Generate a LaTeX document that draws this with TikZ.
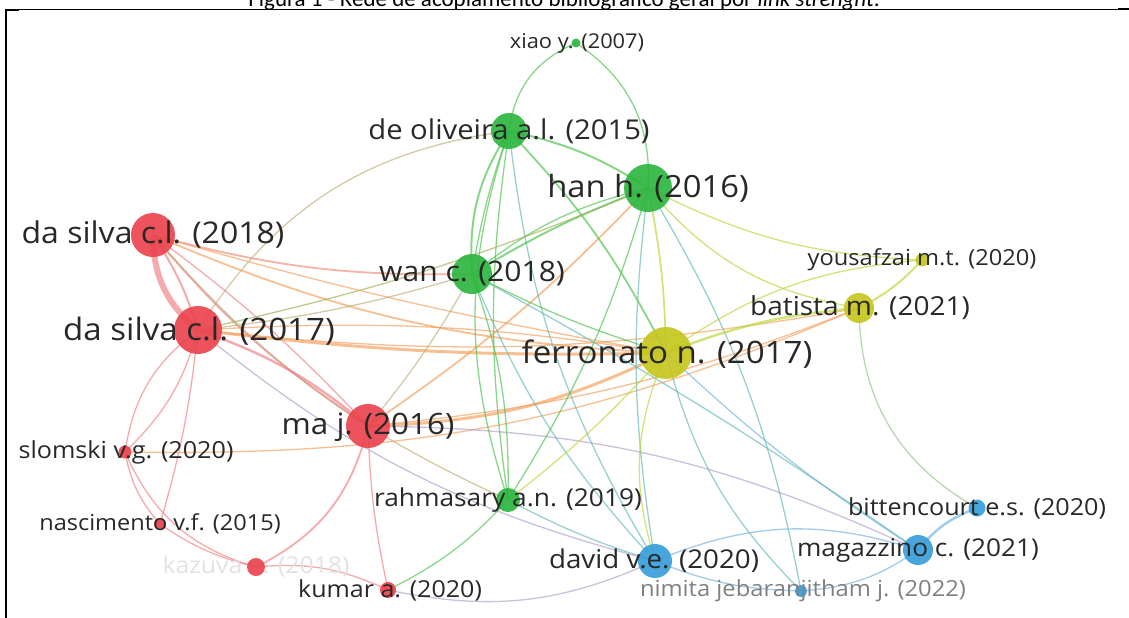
\documentclass[tikz,border=0pt]{standalone}
\usepackage{fontspec}
\setmainfont{Open Sans}
\newfontfamily\labfont[FakeStretch=1.07]{Open Sans}
\newfontfamily\capfont{Carlito}
\pgfdeclarelayer{edgelayer}
\pgfsetlayers{edgelayer,main}
\newcommand{\fsz}[1]{\labfont\fontsize{#1}{#1}\selectfont}
\definecolor{vred}{RGB}{234,68,78}
\definecolor{vgreen}{RGB}{46,182,64}
\definecolor{vyellow}{RGB}{198,198,32}
\definecolor{vblue}{RGB}{58,158,218}
\definecolor{epink}{RGB}{240,130,135}
\definecolor{eorange}{RGB}{245,160,95}
\definecolor{etan}{RGB}{195,175,125}
\definecolor{egreen}{RGB}{80,195,80}
\definecolor{eyg}{RGB}{185,215,60}
\definecolor{eblue}{RGB}{115,180,225}
\definecolor{ebg}{RGB}{105,185,185}
\definecolor{elilac}{RGB}{180,160,205}
\definecolor{labc}{RGB}{40,40,40}
\definecolor{labgray}{RGB}{128,128,128}
\definecolor{labfaint}{RGB}{226,226,226}
\begin{document}
\begin{tikzpicture}[x=1pt,y=1pt,
  dot/.style={circle, fill=#1, fill opacity=0.92, draw=none, inner sep=0pt},
  lab/.style={text=labc, inner sep=0pt, anchor=center},
  lnk/.style={draw=#1, line width=1.3pt, draw opacity=0.68},
  frameline/.style={draw=black, line width=1pt}]
\clip (0,0) rectangle (1129,-618);

% caption and frame
\node[anchor=base, inner sep=0pt, font=\capfont\fontsize{23}{23}\selectfont] (cap) at (564,-6.5)
  {Figura 1 - Rede de acoplamento bibliográfico geral por \textit{link strenght}.};
\draw[frameline] (5,-9.5) -- (1129,-9.5);
\draw[frameline, line width=2pt] (5,-10) -- (19,-10);
\draw[frameline, line width=2pt] (1118,-8.7) -- (1129,-8.7);
\draw[frameline, line width=1.6pt] (5.8,-9) -- (5.8,-618);

% faint label lies under its node
\node[lab, font={\fsz{23.2}}, text=labfaint] (kazut) at (256,-567) {kazuva e. (2018)};

% nodes
\node[dot=vgreen, minimum size=9pt] (xiao) at (576,-43) {};
\node[dot=vgreen, minimum size=36pt] (deol) at (509,-131) {};
\node[dot=vgreen, minimum size=48pt] (han) at (648,-188) {};
\node[dot=vred, minimum size=44pt] (ds18) at (153,-235) {};
\node[dot=vgreen, minimum size=40pt] (wan) at (472,-274) {};
\node[dot=vyellow, minimum size=13pt] (yous) at (922,-260) {};
\node[dot=vyellow, minimum size=30pt] (bat) at (859,-308) {};
\node[dot=vred, minimum size=48pt] (ds17) at (198,-330) {};
\node[dot=vyellow, minimum size=52pt] (ferr) at (666,-353) {};
\node[dot=vred, minimum size=44pt] (maj) at (368,-426) {};
\node[dot=vred, minimum size=13pt] (slom) at (125,-452) {};
\node[dot=vgreen, minimum size=24pt] (rahm) at (508,-500) {};
\node[dot=vred, minimum size=12pt] (nasc) at (160,-524) {};
\node[dot=vblue, minimum size=17pt] (bitt) at (977,-508) {};
\node[dot=vblue, minimum size=30pt] (maga) at (918,-550) {};
\node[dot=vblue, minimum size=34pt] (david) at (655,-561) {};
\node[dot=vred, minimum size=18pt] (kazu) at (256,-567) {};
\node[dot=vred, minimum size=16pt] (kumar) at (388,-590) {};
\node[dot=vblue, minimum size=12pt] (nimi) at (801,-591) {};

% labels
\node[lab, font={\fsz{20.4}}] (xiaot) at (577,-43) {xiao y. (2007)};
\node[lab, font={\fsz{27.3}}] (deolt) at (509,-131) {de oliveira a.l. (2015)};
\node[lab, font={\fsz{30.6}}] (hant) at (648,-188) {han h. (2016)};
\node[lab, font={\fsz{29.9}}] (ds18t) at (153,-235) {da silva c.l. (2018)};
\node[lab, font={\fsz{28.1}}] (want) at (472,-274) {wan c. (2018)};
\node[lab, font={\fsz{22.1}}] (youst) at (922,-260) {yousafzai m.t. (2020)};
\node[lab, font={\fsz{26.2}}] (batt) at (860,-308) {batista m. (2021)};
\node[lab, font={\fsz{30.9}}] (ds17t) at (199,-331) {da silva c.l. (2017)};
\node[lab, font={\fsz{30.9}}] (ferrt) at (667,-354) {ferronato n. (2017)};
\node[lab, font={\fsz{29.4}}] (majt) at (368,-427) {ma j. (2016)};
\node[lab, font={\fsz{23.5}}] (slomt) at (126,-452) {slomski v.g. (2020)};
\node[lab, font={\fsz{24.6}}] (rahmt) at (508,-500) {rahmasary a.n. (2019)};
\node[lab, font={\fsz{22.0}}] (nasct) at (160,-524) {nascimento v.f. (2015)};
\node[lab, font={\fsz{23.5}}] (bittt) at (977,-508) {bittencourt e.s. (2020)};
\node[lab, font={\fsz{24.5}}] (magat) at (918,-550) {magazzino c. (2021)};
\node[lab, font={\fsz{25.9}}] (davidt) at (654,-561) {david v.e. (2020)};
\node[lab, font={\fsz{23.4}}] (kumart) at (390,-590) {kumar a. (2020)};
\node[lab, font={\fsz{22.2}}, text=labgray] (nimit) at (803,-591) {nimita jebaranjitham j. (2022)};

% edges
\begin{pgfonlayer}{edgelayer}
\draw[lnk=epink, line width=6pt] (ds18.center) to[bend right=25] (ds17.center);
\draw[lnk=epink, line width=2pt] (ds18.center) to[bend left=8] (ds17.center);
\draw[lnk=epink!60!eorange, line width=1.8pt] (ds18.center) to[bend right=8] (wan.center);
\draw[lnk=epink, line width=2pt] (ds18.center) to[bend right=8] (maj.center);
\draw[lnk=epink] (ds18.center) to[bend left=5] (maj.center);
\draw[lnk=eorange, line width=1.8pt] (ds18.center) to[bend right=10] (ferr.center);
\draw[lnk=eorange] (ds18.center) to[bend right=3] (ferr.center);
\draw[lnk=etan] (ds18.center) to[bend right=12] (rahm.center);
\draw[lnk=eorange, line width=3pt] (ds17.center) to[bend right=4] (ferr.center);
\draw[lnk=eorange] (ds17.center) to[bend left=6] (ferr.center);
\draw[lnk=epink, line width=2.5pt] (ds17.center) to[bend left=10] (maj.center);
\draw[lnk=epink] (ds17.center) to[bend left=15] (slom.center);
\draw[lnk=epink] (ds17.center) to[bend right=22] (slom.center);
\draw[lnk=epink] (ds17.center) to[bend left=5] (nasc.center);
\draw[lnk=epink] (slom.center) to[bend right=15] (nasc.center);
\draw[lnk=epink] (slom.center) to[bend right=25] (kazu.center);
\draw[lnk=epink] (nasc.center) to[bend right=10] (kazu.center);
\draw[lnk=epink, line width=1.8pt] (maj.center) to[bend left=25] (kazu.center);
\draw[lnk=epink] (maj.center) to[bend right=5] (kumar.center);
\draw[lnk=epink] (kazu.center) to[bend left=15] (kumar.center);
\draw[lnk=eorange] (slom.center) to[bend right=12] (bat.center);
\draw[lnk=elilac] (ds17.center) to[bend right=12] (david.center);
\draw[lnk=elilac] (maj.center) to[bend left=12] (maga.center);
\draw[lnk=elilac] (kumar.center) to[bend right=18] (david.center);
\draw[lnk=egreen] (kumar.center) to[bend right=10] (rahm.center);
\draw[lnk=eorange, line width=1.8pt] (maj.center) to[bend right=6] (han.center);
\draw[lnk=eorange, line width=3pt] (maj.center) to[bend right=12] (ferr.center);
\draw[lnk=eorange] (maj.center) to[bend right=8] (bat.center);
\draw[lnk=etan] (ds17.center) to[bend right=5] (wan.center);
\draw[lnk=etan] (ds17.center) to[bend left=25] (deol.center);
\draw[lnk=eorange] (bat.center) to[bend left=8] (ds17.center);
\draw[lnk=egreen] (xiao.center) to[bend right=30] (deol.center);
\draw[lnk=egreen] (xiao.center) to[bend left=30] (han.center);
\draw[lnk=egreen, line width=2pt] (deol.center) to[bend left=10] (han.center);
\draw[lnk=egreen, line width=1.8pt] (deol.center) to[bend left=8] (ferr.center);
\draw[lnk=egreen, line width=2pt] (deol.center) to[bend right=18] (wan.center);
\draw[lnk=egreen] (deol.center) to[bend right=5] (wan.center);
\draw[lnk=egreen] (deol.center) to[bend right=8] (rahm.center);
\draw[lnk=egreen] (deol.center) to[bend right=18] (rahm.center);
\draw[lnk=ebg] (deol.center) to[bend right=12] (david.center);
\draw[lnk=egreen, line width=2pt] (han.center) to[bend right=5] (wan.center);
\draw[lnk=egreen] (han.center) to[bend right=12] (wan.center);
\draw[lnk=eorange!50!egreen] (han.center) to[bend left=5] (ds17.center);
\draw[lnk=eyg, line width=1.8pt] (han.center) to[bend left=5] (ferr.center);
\draw[lnk=eyg] (han.center) to[bend right=20] (bat.center);
\draw[lnk=eyg] (han.center) to[bend right=12] (yous.center);
\draw[lnk=egreen] (han.center) to[bend left=8] (rahm.center);
\draw[lnk=ebg] (han.center) to[bend right=8] (david.center);
\draw[lnk=ebg] (han.center) to[bend left=10] (nimi.center);
\draw[lnk=eblue] (ferr.center) to[bend right=5] (maga.center);
\draw[lnk=ebg] (wan.center) to[bend left=3] (maga.center);
\draw[lnk=ebg] (wan.center) to[bend right=10] (david.center);
\draw[lnk=egreen] (wan.center) to[bend left=10] (rahm.center);
\draw[lnk=egreen] (wan.center) to[bend right=5] (ferr.center);
\draw[lnk=etan] (wan.center) to[bend left=5] (maj.center);
\draw[lnk=eyg] (ferr.center) to[bend right=20] (david.center);
\draw[lnk=ebg] (ferr.center) to[bend right=15] (nimi.center);
\draw[lnk=eyg, line width=2.5pt] (ferr.center) to[bend left=8] (bat.center);
\draw[lnk=eyg] (ferr.center) to[bend left=15] (yous.center);
\draw[lnk=eyg] (ferr.center) to[bend left=5] (rahm.center);
\draw[lnk=eyg!50!eblue] (bat.center) to[bend right=30] (bitt.center);
\draw[lnk=eyg, line width=2pt] (bat.center) to[bend right=10] (yous.center);
\draw[lnk=eblue] (david.center) to[bend left=20] (maga.center);
\draw[lnk=eblue] (david.center) to[bend right=10] (nimi.center);
\draw[lnk=eblue] (nimi.center) to[bend right=15] (maga.center);
\draw[lnk=eblue, line width=2.5pt] (maga.center) to[bend left=15] (bitt.center);
\draw[lnk=ebg] (rahm.center) to[bend right=5] (david.center);
\end{pgfonlayer}
\end{tikzpicture}
\end{document}
